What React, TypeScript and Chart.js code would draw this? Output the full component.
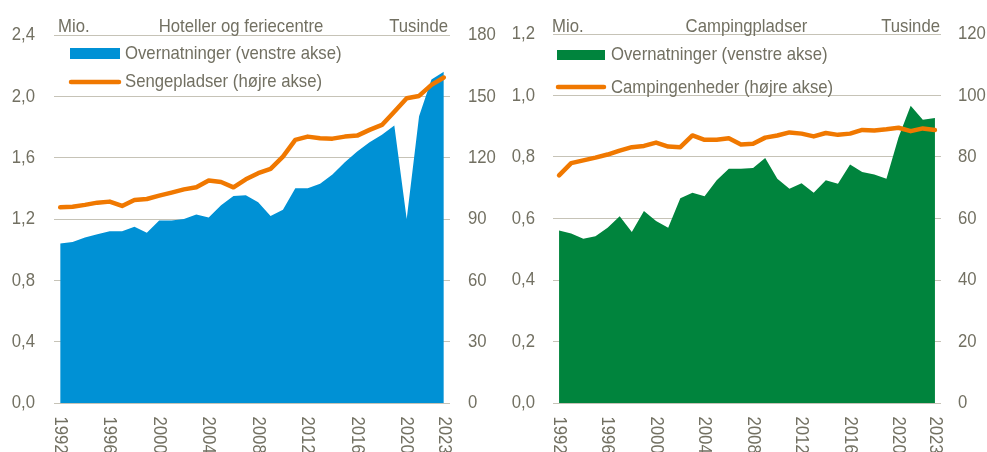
import React, { useEffect, useRef } from 'react';
import { Chart, registerables } from 'chart.js';

Chart.register(...registerables);

// ---------- DATA ----------
const years = [
  1992, 1993, 1994, 1995, 1996, 1997, 1998, 1999, 2000, 2001, 2002, 2003, 2004, 2005, 2006, 2007,
  2008, 2009, 2010, 2011, 2012, 2013, 2014, 2015, 2016, 2017, 2018, 2019, 2020, 2021, 2022, 2023,
];
const xTickYears = [1992, 1996, 2000, 2004, 2008, 2012, 2016, 2020, 2023];

// Hoteller og feriecentre
const hotelOvernatninger = [
  1.04, 1.05, 1.08, 1.1, 1.12, 1.12, 1.15, 1.11, 1.19, 1.19, 1.2, 1.23, 1.21, 1.29, 1.35, 1.355,
  1.31, 1.22, 1.26, 1.4, 1.4, 1.43, 1.49, 1.57, 1.64, 1.7, 1.75, 1.81, 1.2, 1.87, 2.11, 2.16,
];
const hotelSengepladser = [
  95.7, 96.0, 96.9, 98.0, 98.5, 96.4, 99.3, 99.8, 101.4, 102.9, 104.5, 105.5, 108.8, 108.1, 105.5, 109.4,
  112.4, 114.5, 120.5, 128.7, 130.3, 129.5, 129.3, 130.3, 130.8, 133.6, 136.0, 142.5, 149.1, 150.2, 155.6, 159.2,
];
const hotelLeftTicks = [0, 0.4, 0.8, 1.2, 1.6, 2.0, 2.4];
const hotelRightTicks = [0, 30, 60, 90, 120, 150, 180];

// Campingpladser
const campingOvernatninger = [
  0.561, 0.551, 0.534, 0.542, 0.57, 0.607, 0.556, 0.624, 0.592, 0.57, 0.666, 0.684, 0.672, 0.724, 0.762, 0.762,
  0.764, 0.797, 0.729, 0.697, 0.715, 0.684, 0.724, 0.713, 0.776, 0.751, 0.743, 0.729, 0.864, 0.967, 0.921, 0.927,
];
const campingEnheder = [
  74.0, 78.0, 78.9, 79.8, 80.8, 82.1, 83.2, 83.6, 84.7, 83.4, 83.2, 87.0, 85.6, 85.6, 86.1, 84.1,
  84.3, 86.3, 87.0, 88.0, 87.6, 86.7, 87.8, 87.2, 87.6, 88.8, 88.6, 89.0, 89.5, 88.4, 89.3, 88.8,
];
const campingLeftTicks = [0, 0.2, 0.4, 0.6, 0.8, 1.0, 1.2];
const campingRightTicks = [0, 20, 40, 60, 80, 100, 120];

// ---------- STYLE ----------
const TEXT = '#727062';
const GRID = '#c6c3b7';
const ORANGE = '#f07800';
const BLUE = '#0091d5';
const GREEN = '#00843d';
const FONT = '19px "Liberation Sans", Arial, sans-serif';
const SX = 0.88;

type PanelCfg = {
  offsetX: number;
  width: number;
  height: number;
  areaLeft: number;
  areaRight: number;
  areaTop: number;
  areaBottom: number;
  title: string;
  titleX: number;
  mioX: number;
  tusindeX: number;
  areaLabel: string;
  lineLabel: string;
  areaColor: string;
  areaValues: number[];
  lineValues: number[];
  leftTicks: number[];
  rightTicks: number[];
  leftLabelX: number;
  rightLabelX: number;
  legendBox: { x: number; y: number; w: number; h: number };
  legendLineY: number;
  legendTextX: number;
  legendText1Y: number;
  legendText2Y: number;
};

function drawText(
  ctx: CanvasRenderingContext2D,
  text: string,
  x: number,
  y: number,
  align: CanvasTextAlign,
  baseline: CanvasTextBaseline,
  rotate = 0,
) {
  ctx.save();
  ctx.translate(x, y);
  if (rotate) ctx.rotate(rotate);
  ctx.scale(SX, 1);
  ctx.textAlign = align;
  ctx.textBaseline = baseline;
  ctx.fillText(text, 0, 0);
  ctx.restore();
}

const fmtLeft = (v: number) => v.toFixed(1).replace('.', ',');

function Panel({ cfg }: { cfg: PanelCfg }) {
  const ref = useRef<HTMLCanvasElement>(null);

  useEffect(() => {
    if (!ref.current) return;
    const textPlugin = {
      id: 'panelText',
      afterDraw(chart: any) {
        const ctx: CanvasRenderingContext2D = chart.ctx;
        ctx.save();
        ctx.font = FONT;
        ctx.fillStyle = TEXT;
        // header
        drawText(ctx, 'Mio.', cfg.mioX, 31.5, 'left', 'alphabetic');
        drawText(ctx, cfg.title, cfg.titleX, 31.5, 'center', 'alphabetic');
        drawText(ctx, 'Tusinde', cfg.tusindeX, 31.5, 'right', 'alphabetic');
        // y tick labels
        const yL = chart.scales.y;
        yL.ticks.forEach((t: any) => {
          drawText(ctx, fmtLeft(t.value), cfg.leftLabelX, yL.getPixelForValue(t.value), 'right', 'middle');
        });
        const yR = chart.scales.y1;
        yR.ticks.forEach((t: any) => {
          drawText(ctx, String(t.value), cfg.rightLabelX, yR.getPixelForValue(t.value), 'left', 'middle');
        });
        // x tick labels (rotated clockwise)
        const xs = chart.scales.x;
        xs.ticks.forEach((t: any) => {
          drawText(ctx, String(t.value), xs.getPixelForValue(t.value), cfg.areaBottom + 13.5, 'left', 'middle', Math.PI / 2);
        });
        // legend
        const b = cfg.legendBox;
        ctx.fillStyle = cfg.areaColor;
        ctx.fillRect(b.x, b.y, b.w, b.h);
        ctx.strokeStyle = ORANGE;
        ctx.lineWidth = 4.5;
        ctx.lineCap = 'round';
        ctx.beginPath();
        ctx.moveTo(b.x + 1, cfg.legendLineY);
        ctx.lineTo(b.x + b.w - 1, cfg.legendLineY);
        ctx.stroke();
        ctx.fillStyle = TEXT;
        drawText(ctx, cfg.areaLabel, cfg.legendTextX, cfg.legendText1Y, 'left', 'middle');
        drawText(ctx, cfg.lineLabel, cfg.legendTextX, cfg.legendText2Y, 'left', 'middle');
        ctx.restore();
      },
    };

    const chart = new Chart(ref.current, {
      type: 'line',
      data: {
        datasets: [
          {
            label: cfg.lineLabel,
            data: years.map((x, i) => ({ x, y: cfg.lineValues[i] })),
            yAxisID: 'y1',
            borderColor: ORANGE,
            borderWidth: 4.5,
            borderCapStyle: 'round',
            borderJoinStyle: 'round',
            pointRadius: 0,
            fill: false,
            tension: 0,
            order: 0,
          },
          {
            label: cfg.areaLabel,
            data: years.map((x, i) => ({ x, y: cfg.areaValues[i] })),
            yAxisID: 'y',
            backgroundColor: cfg.areaColor,
            borderColor: cfg.areaColor,
            borderWidth: 0,
            pointRadius: 0,
            fill: 'origin',
            tension: 0,
            order: 1,
          },
        ] as any,
      },
      options: {
        animation: false,
        responsive: false,
        devicePixelRatio: 1,
        layout: { padding: { top: cfg.areaTop, left: 0, right: 0, bottom: 0 } },
        plugins: { legend: { display: false }, tooltip: { enabled: false }, title: { display: false } },
        scales: {
          x: {
            type: 'linear',
            min: 1991.5,
            max: 2023.5,
            afterBuildTicks: (s: any) => {
              s.ticks = xTickYears.map((v) => ({ value: v }));
            },
            ticks: { display: false },
            grid: { display: false },
            border: { display: false },
            afterFit: (s: any) => {
              s.height = cfg.height - cfg.areaBottom;
            },
          },
          y: {
            position: 'left',
            min: cfg.leftTicks[0],
            max: cfg.leftTicks[cfg.leftTicks.length - 1],
            afterBuildTicks: (s: any) => {
              s.ticks = cfg.leftTicks.map((v) => ({ value: v }));
            },
            ticks: { display: false },
            grid: { color: GRID, lineWidth: 1, drawTicks: false },
            border: { display: false },
            afterFit: (s: any) => {
              s.width = cfg.areaLeft;
            },
          },
          y1: {
            position: 'right',
            min: cfg.rightTicks[0],
            max: cfg.rightTicks[cfg.rightTicks.length - 1],
            afterBuildTicks: (s: any) => {
              s.ticks = cfg.rightTicks.map((v) => ({ value: v }));
            },
            ticks: { display: false },
            grid: { display: false },
            border: { display: false },
            afterFit: (s: any) => {
              s.width = cfg.width - cfg.areaRight;
            },
          },
        },
      } as any,
      plugins: [textPlugin],
    });
    return () => chart.destroy();
  }, [cfg]);

  return (
    <canvas
      ref={ref}
      width={cfg.width}
      height={cfg.height}
      style={{ position: 'absolute', left: cfg.offsetX, top: 0, width: cfg.width, height: cfg.height }}
    />
  );
}

const hotelCfg: PanelCfg = {
  offsetX: 0,
  width: 510,
  height: 452,
  areaLeft: 54,
  areaRight: 450,
  areaTop: 35,
  areaBottom: 403,
  title: 'Hoteller og feriecentre',
  titleX: 241,
  mioX: 58,
  tusindeX: 448,
  areaLabel: 'Overnatninger (venstre akse)',
  lineLabel: 'Sengepladser (højre akse)',
  areaColor: BLUE,
  areaValues: hotelOvernatninger,
  lineValues: hotelSengepladser,
  leftTicks: hotelLeftTicks,
  rightTicks: hotelRightTicks,
  leftLabelX: 35,
  rightLabelX: 468,
  legendBox: { x: 70, y: 48, w: 50, h: 11 },
  legendLineY: 82,
  legendTextX: 125,
  legendText1Y: 53.5,
  legendText2Y: 81.5,
};

const campingCfg: PanelCfg = {
  offsetX: 493,
  width: 494,
  height: 452,
  areaLeft: 60,
  areaRight: 448,
  areaTop: 34,
  areaBottom: 403,
  title: 'Campingpladser',
  titleX: 253.5,
  mioX: 59,
  tusindeX: 447,
  areaLabel: 'Overnatninger (venstre akse)',
  lineLabel: 'Campingenheder (højre akse)',
  areaColor: GREEN,
  areaValues: campingOvernatninger,
  lineValues: campingEnheder,
  leftTicks: campingLeftTicks,
  rightTicks: campingRightTicks,
  leftLabelX: 42,
  rightLabelX: 465,
  legendBox: { x: 64, y: 50, w: 48, h: 10 },
  legendLineY: 87,
  legendTextX: 118,
  legendText1Y: 54.5,
  legendText2Y: 87.5,
};

export default function App() {
  return (
    <div style={{ position: 'fixed', left: 0, top: 0, width: 987, height: 452, background: '#ffffff', overflow: 'hidden' }}>
      <Panel cfg={hotelCfg} />
      <Panel cfg={campingCfg} />
    </div>
  );
}
